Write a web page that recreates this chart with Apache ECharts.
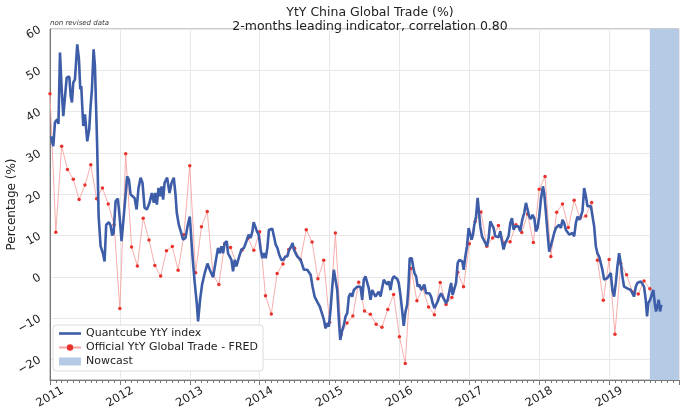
<!DOCTYPE html>
<html>
<head>
<meta charset="utf-8">
<script src="https://cdn.jsdelivr.net/npm/echarts@6/dist/echarts.min.js"></script>
<style>
html,body{margin:0;padding:0;background:#fff;}
#chart{width:685px;height:415px;}
</style>
</head>
<body>
<div id="chart"></div>
<script>
// ---------- DATA ----------
const START_YEAR = 2011;
const yearLabels = [2011, 2012, 2013, 2014, 2015, 2016, 2017, 2018, 2019];
const yTickValues = [-20, -10, 0, 10, 20, 30, 40, 50, 60];

// Official YtY Global Trade - FRED (monthly, starting Jan 2011)
const fredValues = [
  44.3, 10.8, 31.6, 26.0, 23.6, 18.7, 22.2, 27.1, 18.9, 21.5, 17.6, 12.6,
  -7.7, 29.8, 7.2, 2.6, 14.2, 8.9, 2.7, 0.2, 6.3, 7.3, 1.6, 10.2,
  26.9, 1.0, 12.1, 15.8, 0.5, -1.9, 8.0, 7.1, 3.2, 6.5, 9.3, 6.4,
  10.9, -4.6, -9.0, 0.8, 3.1, 6.6, 6.9, 4.1, 11.4, 8.4, -0.5, 4.0,
  -11.0, 10.6, -13.9, -11.2, -9.5, -1.3, -8.3, -9.1, -11.5, -12.2, -7.9, -4.3,
  -14.5, -21.0, 2.0, -5.8, -2.8, -7.3, -9.2, -1.4, -6.7, -5.0, 1.1, -2.4,
  8.0, 13.4, 15.7, 7.4, 9.4, 12.4, 8.2, 8.5, 12.6, 10.7, 15.2, 8.3,
  21.2, 24.3, 4.9, 15.6, 17.6, 11.9, 18.5, 14.2, 14.7, 18.0, 4.0, -5.7,
  4.2, -13.9, 3.2, 0.5, -3.7, -4.2, -1.0, -2.9
];

// Quantcube YtY index: time (years since Jan 2011) and value
const quantT = [
  0.014,0.047,0.071,0.104,0.121,0.143,0.167,0.190,0.214,0.239,0.261,0.276,0.296,0.314,0.333,0.357,
  0.390,0.414,0.433,0.447,0.476,0.500,0.514,0.533,0.561,0.581,0.600,0.624,0.643,0.667,0.676,0.696,
  0.724,0.757,0.781,0.804,0.843,0.867,0.890,0.910,0.939,0.971,0.996,1.024,1.057,1.104,1.129,1.153,
  1.176,1.210,1.239,1.267,1.296,1.324,1.353,1.386,1.424,1.457,1.486,1.504,1.529,1.553,1.576,1.596,
  1.619,1.639,1.676,1.710,1.739,1.771,1.796,1.814,1.843,1.871,1.904,1.939,1.967,2.000,2.021,2.043,
  2.071,2.100,2.119,2.147,2.176,2.214,2.253,2.286,2.310,2.333,2.367,2.404,2.429,2.453,2.476,2.500,
  2.529,2.547,2.571,2.596,2.619,2.643,2.667,2.700,2.739,2.776,2.810,2.843,2.871,2.896,2.914,2.939,
  2.961,2.986,3.014,3.039,3.061,3.086,3.110,3.133,3.157,3.181,3.204,3.229,3.253,3.281,3.310,3.339,
  3.367,3.396,3.419,3.453,3.471,3.490,3.514,3.539,3.561,3.586,3.610,3.633,3.657,3.681,3.704,3.729,
  3.757,3.786,3.810,3.833,3.861,3.890,3.919,3.943,3.967,3.990,4.014,4.039,4.061,4.086,4.110,4.133,
  4.153,4.176,4.204,4.229,4.253,4.276,4.300,4.324,4.347,4.371,4.396,4.419,4.443,4.467,4.490,4.514,
  4.539,4.561,4.586,4.610,4.633,4.657,4.681,4.704,4.729,4.753,4.776,4.800,4.824,4.847,4.871,4.896,
  4.919,4.943,4.967,4.990,5.014,5.039,5.061,5.086,5.110,5.129,5.147,5.176,5.196,5.214,5.239,5.261,
  5.286,5.310,5.333,5.357,5.381,5.404,5.429,5.453,5.476,5.500,5.524,5.547,5.571,5.596,5.619,5.643,
  5.667,5.690,5.714,5.739,5.761,5.786,5.810,5.833,5.857,5.881,5.900,5.919,5.943,5.967,5.990,6.014,
  6.033,6.053,6.071,6.096,6.119,6.139,6.157,6.181,6.204,6.229,6.253,6.276,6.300,6.324,6.347,6.371,
  6.396,6.419,6.443,6.467,6.490,6.514,6.539,6.561,6.586,6.610,6.633,6.657,6.681,6.704,6.729,6.757,
  6.786,6.810,6.833,6.857,6.881,6.904,6.929,6.953,6.976,7.000,7.024,7.053,7.071,7.096,7.119,7.143,
  7.167,7.190,7.214,7.239,7.261,7.286,7.310,7.333,7.357,7.381,7.404,7.429,7.453,7.476,7.500,7.524,
  7.547,7.571,7.596,7.619,7.643,7.667,7.690,7.714,7.739,7.761,7.786,7.810,7.833,7.857,7.881,7.904,
  7.929,7.953,7.976,8.000,8.024,8.047,8.071,8.096,8.119,8.143,8.167,8.190,8.214,8.239,8.261,8.286,
  8.310,8.333,8.357,8.381,8.404,8.429,8.453,8.476,8.500,8.524,8.543,8.561,8.586,8.610,8.633,8.653,
  8.671,8.690,8.710,8.729,8.747
];
const quantV = [
  34.0,31.6,37.4,38.1,37.0,54.3,45.4,38.9,39.3,48.2,47.8,48.5,43.8,42.2,47.0,47.8,
  56.3,52.7,45.4,46.2,36.5,39.3,38.9,32.8,35.7,41.3,45.4,55.1,51.0,36.5,30.8,14.6,
  7.4,5.7,3.7,12.6,13.2,12.4,10.0,10.6,18.3,18.9,14.6,8.6,15.0,24.3,23.5,19.9,
  20.3,19.1,16.3,21.5,24.0,22.7,16.7,16.3,17.9,20.3,17.9,20.3,17.5,21.5,19.5,21.9,
  18.7,22.7,24.0,20.3,22.7,24.0,19.9,15.5,12.6,11.0,9.0,9.4,12.2,14.6,14.3,4.1,
  -1.5,-6.4,-10.8,-5.6,-1.9,0.9,3.2,1.7,2.1,-0.1,3.3,7.0,5.7,7.4,5.7,8.2,
  8.6,5.7,6.1,4.1,1.3,4.1,2.5,4.5,6.6,7.0,8.6,10.2,9.4,11.0,13.2,13.4,
  11.0,10.2,6.6,4.5,5.7,4.5,7.0,11.4,11.0,11.6,9.8,7.8,7.0,5.3,4.1,4.1,
  4.9,4.9,6.4,7.4,8.2,6.6,5.7,4.9,5.1,4.1,3.7,1.7,2.1,1.7,1.3,0.5,
  -2.4,-4.8,-5.6,-6.4,-7.2,-8.8,-10.4,-12.5,-11.2,-12.1,-8.0,-2.4,1.7,1.3,-3.2,-10.4,
  -15.3,-13.3,-11.7,-9.6,-8.8,-4.8,-4.0,-4.8,-3.2,-3.6,-2.4,-2.8,-2.4,-5.6,-0.7,0.1,
  -0.3,-2.8,-5.6,-3.2,-4.0,-4.8,-4.4,-3.6,-4.8,-4.4,-0.7,-0.3,-1.9,-1.1,-3.2,-0.7,
  0.1,-0.1,-0.5,-1.5,-4.4,-8.2,-11.9,-8.5,-6.8,-2.4,4.5,4.5,2.5,0.9,0.1,-2.4,
  -1.9,-3.2,-2.8,-1.9,-4.0,-4.4,-4.0,-4.8,-6.4,-7.6,-7.6,-6.0,-4.8,-4.0,-4.8,-5.6,
  -6.4,-5.6,-3.6,-1.5,-4.4,-4.0,-1.5,3.3,4.1,4.5,3.7,1.7,4.9,7.4,11.8,12.2,
  9.0,10.2,12.6,14.6,19.1,15.5,12.2,9.8,9.0,9.4,7.4,9.4,13.4,13.0,11.8,9.8,
  9.8,9.6,11.0,8.6,6.6,8.2,9.0,9.8,13.0,14.2,11.4,12.2,12.4,12.2,11.0,13.8,
  15.5,17.9,17.5,14.6,14.0,15.0,14.2,11.0,11.8,14.6,18.7,21.9,20.3,15.5,10.6,6.1,
  5.7,9.0,10.6,11.8,11.4,12.6,11.8,13.8,13.0,11.4,11.8,10.2,9.8,10.6,9.8,13.0,
  14.6,13.8,14.6,15.9,21.5,19.5,17.1,16.7,17.1,16.7,12.2,7.4,5.7,4.9,3.3,1.7,
  -0.7,-0.7,-0.3,-0.7,0.9,-3.2,-4.8,-1.5,2.5,5.7,3.3,0.1,-2.4,-2.0,-2.8,-2.4,
  -3.2,-4.0,-4.8,-2.4,-1.5,-1.5,-1.1,-1.5,-2.4,-5.6,-9.6,-6.4,-5.6,-6.0,-3.2,-6.4,
  -8.4,-7.2,-5.6,-8.4,-6.8
];

// Nowcast window (years)
const nowcastStart = 2019.583;
const nowcastEnd = 2020;

// ---------- CHART ----------
const quantData = quantT.map((t, i) => [START_YEAR + t, quantV[i]]);
const fredData = fredValues.map((v, i) => [START_YEAR + i / 12, v]);
const minus = s => String(s).replace('-', '\u2212');

const FONT = 'DejaVu Sans';
const BLUE = '#3d5da8';
const NOW = '#b5cae4';
const chart = echarts.init(document.getElementById('chart'), null, {renderer: 'canvas'});
chart.setOption({
  animation: false,
  backgroundColor: '#ffffff',
  textStyle: {fontFamily: FONT},
  title: {
    text: 'YtY China Global Trade (%)\n2-months leading indicator, correlation 0.80',
    left: 365, top: 1, textAlign: 'center',
    textStyle: {fontFamily: FONT, fontSize: 12.5, fontWeight: 'normal', color: '#222', lineHeight: 14}
  },
  graphic: [{
    type: 'text', left: 50, top: 20,
    style: {text: 'non revised data', font: 'italic 7px "DejaVu Sans"', fill: '#333'}
  }],
  grid: {left: 50, right: 6, top: 29, bottom: 35, show: true, borderColor: '#999', borderWidth: 1,
         outerBoundsMode: 'none', containLabel: false},
  legend: {
    orient: 'vertical', left: 53, top: 325,
    backgroundColor: '#fff', borderColor: '#ddd', borderWidth: 1, borderRadius: 3,
    padding: [3, 5, 4, 5], itemGap: 3, itemWidth: 22, itemHeight: 8,
    textStyle: {fontFamily: FONT, fontSize: 11, color: '#222'},
    data: [
      {name: 'Quantcube YtY index', icon: 'path://M0,0 H22 V2.6 H0 Z', itemStyle: {color: BLUE}},
      {name: 'Official YtY Global Trade - FRED'},
      {name: 'Nowcast', icon: 'rect', itemStyle: {color: NOW}}
    ]
  },
  xAxis: {
    type: 'value', min: 2011, max: 2020, interval: 1,
    axisLine: {show: true, onZero: false, lineStyle: {color: '#777', width: 1}},
    axisTick: {show: true, length: 5, lineStyle: {color: '#777'}},
    minorTick: {show: true, splitNumber: 12, length: 3, lineStyle: {color: '#777'}},
    splitLine: {show: true, lineStyle: {color: '#e8e8e8', width: 1}},
    axisLabel: {
      rotate: 30, align: 'center', verticalAlign: 'middle', margin: 17,
      fontFamily: FONT, fontSize: 11.5, color: '#222',
      formatter: v => (yearLabels.indexOf(Math.round(v)) >= 0 && Math.abs(v - Math.round(v)) < 1e-6) ? String(Math.round(v)) : ''
    }
  },
  yAxis: {
    type: 'value', min: -25, max: 60, interval: 5,
    name: 'Percentage (%)', nameLocation: 'middle', nameGap: 32, nameRotate: 90,
    nameMoveOverlap: false,
    nameTextStyle: {fontFamily: FONT, fontSize: 12, color: '#222'},
    axisLine: {show: true, lineStyle: {color: '#777', width: 1}},
    axisTick: {show: false},
    splitLine: {show: true, lineStyle: {color: ['rgba(0,0,0,0)', '#e8e8e8'], width: 1}},
    axisLabel: {
      rotate: 30, margin: 10, fontFamily: FONT, fontSize: 11.5, color: '#222',
      formatter: v => (yTickValues.indexOf(v) >= 0 ? minus(v) : '')
    }
  },
  series: [
    {
      name: 'Nowcast', type: 'line', data: [], silent: true,
      itemStyle: {color: NOW},
      markArea: {
        silent: true,
        itemStyle: {color: NOW, opacity: 1},
        data: [[{xAxis: nowcastStart}, {xAxis: nowcastEnd}]]
      }
    },
    {
      name: 'Official YtY Global Trade - FRED', type: 'line', data: fredData,
      symbol: 'circle', symbolSize: 3.5, showSymbol: true,
      lineStyle: {color: '#f6a5a3', width: 0.9},
      itemStyle: {color: '#e8322c'}, z: 3
    },
    {
      name: 'Quantcube YtY index', type: 'line', data: quantData,
      symbol: 'none', lineStyle: {color: BLUE, width: 2.6},
      itemStyle: {color: BLUE}, z: 4
    }
  ]
});
</script>
</body>
</html>
